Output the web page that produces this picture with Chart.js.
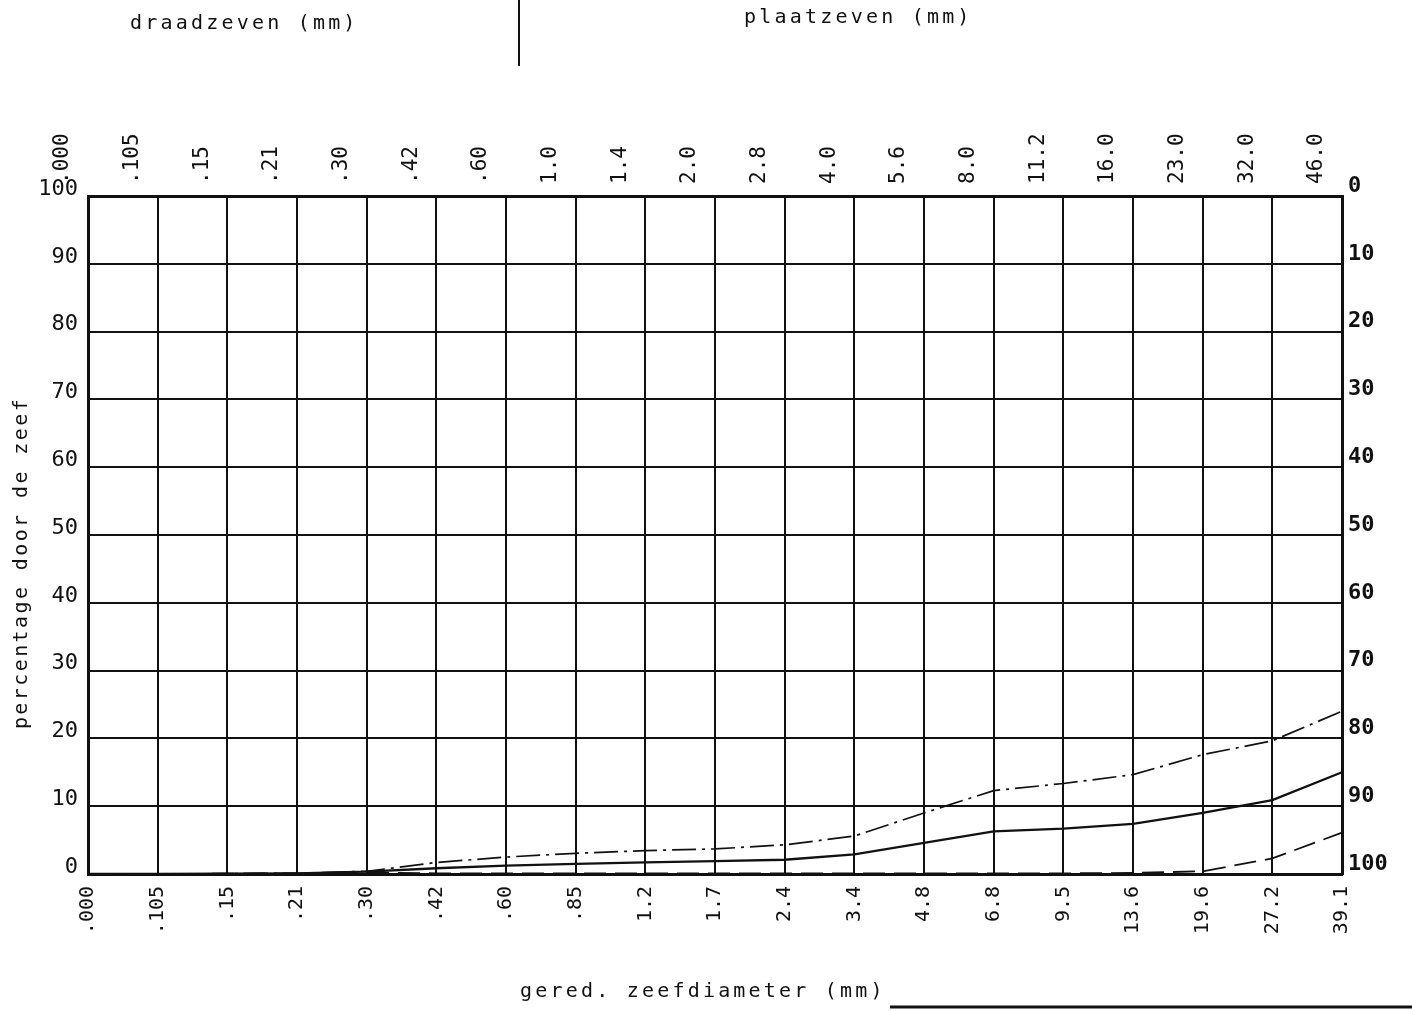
<!DOCTYPE html>
<html>
<head>
<meta charset="utf-8">
<script src="https://cdn.jsdelivr.net/npm/chart.js@4/dist/chart.umd.min.js"></script>
<style>
  html, body { margin: 0; padding: 0; background: #ffffff; }
  #wrap { width: 1412px; height: 1011px; position: relative; }
</style>
</head>
<body>
<div id="wrap"><canvas id="c" width="1412" height="1011"></canvas></div>
<script>
// ---- data ----
const bottomLabels = [".000", ".105", ".15", ".21", ".30", ".42", ".60", ".85", "1.2", "1.7", "2.4", "3.4", "4.8", "6.8", "9.5", "13.6", "19.6", "27.2", "39.1"];
const topLabels = [".000", ".105", ".15", ".21", ".30", ".42", ".60", "1.0", "1.4", "2.0", "2.8", "4.0", "5.6", "8.0", "11.2", "16.0", "23.0", "32.0", "46.0"];
const upperDashDot = [0, 0, 0.05, 0.1, 0.4, 1.7, 2.5, 3.05, 3.45, 3.7, 4.3, 5.6, 9.0, 12.3, 13.35, 14.65, 17.6, 19.65, 24.0];
const middleSolid = [0, 0, 0.05, 0.1, 0.35, 0.85, 1.25, 1.5, 1.7, 1.9, 2.1, 2.9, 4.6, 6.3, 6.7, 7.4, 9.0, 10.9, 15.0];
const lowerDashed = [0, 0, 0.05, 0.1, 0.2, 0.1, 0.1, 0.1, 0.1, 0.1, 0.1, 0.1, 0.1, 0.1, 0.1, 0.15, 0.4, 2.3, 6.1];
const leftTicks = [0, 10, 20, 30, 40, 50, 60, 70, 80, 90, 100];
const rightTicks = [0, 10, 20, 30, 40, 50, 60, 70, 80, 90, 100];

const FONT = "'DejaVu Sans Mono', 'Liberation Mono', monospace";

const annot = {
  id: 'annot',
  afterDraw(chart) {
    const ctx = chart.ctx;
    ctx.save();
    ctx.fillStyle = '#111';
    ctx.strokeStyle = '#111';
    ctx.font = "20px " + FONT;
    try { ctx.letterSpacing = '3.2px'; } catch (e) {}
    ctx.textBaseline = 'middle';
    ctx.textAlign = 'left';
    ctx.fillText('draadzeven (mm)', 130, 24);
    ctx.fillText('plaatzeven (mm)', 744, 18);
    ctx.fillText('gered. zeefdiameter (mm)', 520, 992);
    // y title
    ctx.save();
    ctx.translate(22, 563);
    ctx.rotate(-Math.PI / 2);
    ctx.textAlign = 'center';
    try { ctx.letterSpacing = '2.4px'; } catch (e) {}
    ctx.fillText('percentage door de zeef', 0, 0);
    ctx.restore();
    // divider line at top
    ctx.lineWidth = 2;
    ctx.beginPath();
    ctx.moveTo(519, 0);
    ctx.lineTo(519, 66);
    ctx.stroke();
    // bottom edge line
    ctx.lineWidth = 3;
    ctx.beginPath();
    ctx.moveTo(890, 1007);
    ctx.lineTo(1412, 1007);
    ctx.stroke();
    ctx.restore();
  }
};

const ctx = document.getElementById('c').getContext('2d');
new Chart(ctx, {
  type: 'line',
  data: {
    labels: bottomLabels,
    datasets: [
      { data: upperDashDot, borderColor: '#111', borderWidth: 1.7, borderDash: [24, 6, 3, 6], pointRadius: 0, tension: 0, fill: false },
      { data: middleSolid, borderColor: '#111', borderWidth: 2.3, pointRadius: 0, tension: 0, fill: false },
      { data: lowerDashed, borderColor: '#111', borderWidth: 1.8, borderDash: [22, 9], pointRadius: 0, tension: 0, fill: false }
    ]
  },
  options: {
    responsive: false,
    animation: false,
    devicePixelRatio: 1,
    layout: { padding: 0 },
    plugins: { legend: { display: false }, tooltip: { enabled: false } },
    scales: {
      x: {
        type: 'category',
        position: 'bottom',
        offset: false,
        grid: { color: '#111', lineWidth: 2, drawTicks: false, offset: false },
        border: { color: '#111', width: 3 },
        ticks: { color: '#111', font: { family: FONT, size: 20 }, autoSkip: false, maxRotation: 90, minRotation: 90, padding: 12 },
        afterFit: (s) => { s.height = 1011 - 874; }
      },
      x2: {
        type: 'category',
        position: 'top',
        labels: topLabels,
        offset: false,
        grid: { display: false, drawTicks: false },
        border: { color: '#111', width: 3 },
        ticks: { color: '#111', font: { family: FONT, size: 21 }, autoSkip: false, maxRotation: 90, minRotation: 90, padding: 12 },
        afterFit: (s) => { s.height = 196; }
      },
      y: {
        type: 'linear',
        position: 'left',
        min: 0, max: 100,
        afterBuildTicks: (s) => { s.ticks = leftTicks.map(v => ({ value: v })); },
        grid: { color: '#111', lineWidth: 2, drawTicks: false },
        border: { color: '#111', width: 3 },
        ticks: { color: '#111', font: { family: FONT, size: 22 }, padding: 10, labelOffset: -7 },
        afterFit: (s) => { s.width = 88; }
      },
      y2: {
        type: 'linear',
        position: 'right',
        min: 0, max: 100,
        reverse: true,
        afterBuildTicks: (s) => { s.ticks = rightTicks.map(v => ({ value: v })); },
        grid: { display: false, drawTicks: false },
        border: { color: '#111', width: 3 },
        ticks: { color: '#111', font: { family: FONT, size: 22, weight: 'bold' }, padding: 6, labelOffset: -10 },
        afterFit: (s) => { s.width = 1412 - 1342; }
      }
    }
  },
  plugins: [annot]
});
</script>
</body>
</html>
